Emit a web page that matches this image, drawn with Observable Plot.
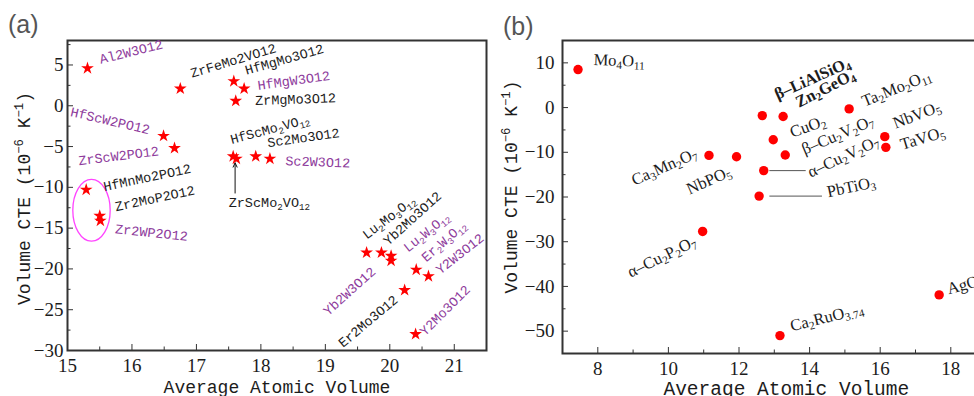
<!DOCTYPE html>
<html><head><meta charset="utf-8">
<script src="https://cdn.jsdelivr.net/npm/d3@7"></script>
<script src="https://cdn.jsdelivr.net/npm/@observablehq/plot@0.6"></script>
<style>
body{margin:0;background:#fff;}
#wrap{position:relative;width:974px;height:396px;overflow:hidden;background:#fff;}
.panel{position:absolute;top:0;}
.panel svg{max-width:none !important;}
.tag{position:absolute;font-family:"Liberation Sans",Arial,sans-serif;font-size:25px;color:#555;line-height:1;}
</style></head><body>
<div id="wrap">
  <div id="pa" class="panel" style="left:0px;width:490px"></div>
  <div id="pb" class="panel" style="left:490px;width:520px"></div>
  <div class="tag" style="left:8px;top:12px">(a)</div>
  <div class="tag" style="left:503px;top:14px">(b)</div>
</div>
<script>
// ---------- Panel (a) data ----------
const aNames = ["Al2W3O12","ZrFeMo2VO12","HfMgMo3O12","HfMgW3O12","ZrMgMo3O12","HfScW2PO12","ZrScW2PO12",
  "HfScMo₂VO₁₂","ZrScMo₂VO₁₂","Sc2Mo3O12","Sc2W3O12","HfMnMo2PO12","Zr2MoP2O12","Zr2WP2O12",
  "Lu₂Mo₃O₁₂","Yb2Mo3O12","Lu₂W₃O₁₂","Er₂W₃O₁₂","Yb2W3O12","Y2W3O12","Er2Mo3O12","Y2Mo3O12"];
const aVolume = [15.31,16.75,17.58,17.74,17.61,16.49,16.66,17.57,17.62,17.92,18.14,15.29,15.50,15.51,
  19.64,19.87,20.02,20.02,20.41,20.60,20.23,20.40];
const aCTE = [4.6,2.1,3.0,2.1,0.6,-3.7,-5.2,-6.2,-6.5,-6.2,-6.5,-10.3,-13.5,-14.1,
  -18.0,-18.0,-18.4,-19.0,-20.1,-20.9,-22.6,-28.0];
const aTone = ["P","K","K","P","K","P","P","K","K","K","P","K","K","P","K","K","P","P","P","P","K","P"];
// label anchors (data units) and angles
const aLabelX = [15.50,16.91,17.76,17.95,17.91,15.05,15.17,17.53,17.50,18.10,18.38,15.56,15.74,15.74,
  19.60,19.93,20.24,20.52,19.00,20.74,19.23,20.50];
const aLabelY = [5.65,3.93,4.3,2.46,0.61,-0.74,-6.76,-4.18,-11.9,-4.55,-6.76,-9.95,-12.4,-15.1,
  -16.0,-16.8,-17.6,-18.8,-25.4,-20.3,-29.3,-27.9];
const aLabelAngle = [-14,-17,-16,-8,-2,13,-7,-15,0,-8,2,-12,-12,6,-37,-42,-39,-41,-42,-38,-40,-45];
const aEllipseCenter = [15.38, -12.87];
const aEllipseRadii = [0.29, 3.79];
const aArrow = {x: 17.6, from: -10.7, to: -7.0};
const aXMajor = [15,16,17,18,19,20,21];
const aXMinor = [15.5,16.5,17.5,18.5,19.5,20.5];
const aYMajor = [-30,-25,-20,-15,-10,-5,0,5];
const aYMinor = [-27.5,-22.5,-17.5,-12.5,-7.5,-2.5,2.5,7.5];

// ---------- Panel (b) data ----------
const bNames = ["Mo₄O₁₁","β–LiAlSiO₄","Zn₂GeO₄","Ta₂Mo₂O₁₁","CuO₂","β–Cu₂V₂O₇","NbVO₅","TaVO₅",
  "Ca₃Mn₂O₇","NbPO₅","α–Cu₂V₂O₇","PbTiO₃","α–Cu₂P₂O₇","Ca₂RuO₃.₇₄","AgO₂"];
const bVolume = [7.44,12.66,13.25,15.12,12.97,13.31,16.13,16.16,11.15,11.93,12.70,12.57,10.97,13.16,17.67];
const bCTE = [8.5,-1.8,-2.0,-0.3,-7.2,-10.6,-6.5,-8.9,-10.7,-11.0,-14.1,-19.8,-27.7,-51.0,-41.9];
const bBold = [false,true,true,false,false,false,false,false,false,false,false,false,false,false,false];
const bLabelX = [7.88,13.03,13.63,15.50,13.46,13.80,16.38,16.58,8.98,10.54,13.97,14.50,8.87,13.46,17.90];
const bLabelY = [10.7,2.84,1.03,1.28,-5.66,-9.47,-3.65,-8.35,-16.4,-18.4,-14.6,-18.9,-37.0,-48.9,-40.6];
const bLabelAngle = [2,-24,-27,-22,-20,-23,-21,-17,-24,-24,-25,-12,-26,-14,-15];
const bLeaderFrom = [12.86, 12.86];
const bLeaderTo = [13.89, 14.35];
const bLeaderY = [-14.1, -19.8];
const bXMajor = [8,10,12,14,16,18];
const bXMinor = [7,9,11,13,15,17,19];
const bYMajor = [-50,-40,-30,-20,-10,0,10];
const bYMinor = [-45,-35,-25,-15,-5,5,15];

const yTitle = "Volume CTE (10⁻⁶ K⁻¹)";
const xTitle = "Average Atomic Volume";

const PURPLE = "#8e3b9c", INK = "#1c1c1c";
const mono = "'Liberation Mono', 'DejaVu Sans Mono', monospace";
const serif = "'Liberation Serif', 'DejaVu Serif', serif";
const fmt = d => (d < 0 ? "\u2212" : "") + Math.abs(d);

const aData = aNames.map((n, i) => ({name: n, x: aVolume[i], y: aCTE[i], tone: aTone[i],
  lx: aLabelX[i], ly: aLabelY[i], ang: aLabelAngle[i]}));
const bData = bNames.map((n, i) => ({name: n, x: bVolume[i], y: bCTE[i], bold: bBold[i],
  lx: bLabelX[i], ly: bLabelY[i], ang: bLabelAngle[i]}));
const bLeaders = bLeaderY.map((y, i) => ({x1: bLeaderFrom[i], x2: bLeaderTo[i], y}));

function axes(xMajor, xMinor, yMajor, yMinor, yPad) {
  const common = {stroke: "#333", fill: INK, label: null, fontSize: 19, fontFamily: serif};
  return [
    Plot.axisX({...common, ticks: xMajor, tickSize: 0, tickPadding: 8, tickFormat: fmt}),
    Plot.axisX({...common, ticks: xMajor, tickSize: -6, tickFormat: () => ""}),
    Plot.axisX({...common, ticks: xMinor, tickSize: -3.5, tickFormat: () => ""}),
    Plot.axisY({...common, ticks: yMajor, tickSize: 0, tickPadding: yPad, tickFormat: fmt}),
    Plot.axisY({...common, ticks: yMajor, tickSize: -6, tickFormat: () => ""}),
    Plot.axisY({...common, ticks: yMinor, tickSize: -3.5, tickFormat: () => ""})
  ];
}

const ellipseMark = (index, scales) => {
  const cx = scales.x(aEllipseCenter[0]), cy = scales.y(aEllipseCenter[1]);
  const rx = Math.abs(scales.x(aEllipseCenter[0] + aEllipseRadii[0]) - cx);
  const ry = Math.abs(scales.y(aEllipseCenter[1] + aEllipseRadii[1]) - cy);
  return d3.create("svg:ellipse").attr("cx", cx).attr("cy", cy).attr("rx", rx).attr("ry", ry)
    .attr("fill", "none").attr("stroke", "#ff44ff").attr("stroke-width", 1.3).node();
};

// turn unicode sub/superscripts into real shifted, smaller text runs
const SUBS = "₀₁₂₃₄₅₆₇₈₉", SUPS = "⁰¹²³⁴⁵⁶⁷⁸⁹";
function richText(svg) {
  d3.select(svg).selectAll("text").each(function() {
    const t = this.textContent;
    if (!/[₀-₉⁰¹²³⁴-⁹⁻]/.test(t)) return;
    const el = d3.select(this);
    el.text(null);
    const runs = t.match(/[₀-₉]+(?:\.[₀-₉]+)?|[⁰¹²³⁴-⁹⁻]+|[^₀-₉⁰¹²³⁴-⁹⁻]+/g);
    for (const r of runs) {
      if (/[₀-₉]/.test(r[0])) {
        el.append("tspan").attr("font-size", "68%").attr("baseline-shift", "-28%")
          .text([...r].map(c => c === "." ? "." : SUBS.indexOf(c)).join(""));
      } else if (/[⁰¹²³⁴-⁹⁻]/.test(r[0])) {
        el.append("tspan").attr("font-size", "68%").attr("baseline-shift", "55%")
          .text([...r].map(c => c === "⁻" ? "−" : SUPS.indexOf(c)).join(""));
      } else {
        el.append("tspan").text(r);
      }
    }
  });
}

const plotA = Plot.plot({
  width: 490, height: 396,
  marginLeft: 67, marginRight: 4, marginTop: 40, marginBottom: 46,
  x: {domain: [15, 21.5]},
  y: {domain: [-30, 8]},
  style: {background: "white", overflow: "visible", fontFamily: serif, maxWidth: "none"},
  marks: [
    ...axes(aXMajor, aXMinor, aYMajor, aYMinor, 4),
    Plot.frame({stroke: "#333", strokeWidth: 2}),
    ellipseMark,
    Plot.arrow([aArrow], {x1: "x", x2: "x", y1: "from", y2: "to", stroke: "#111", strokeWidth: 1, headLength: 7, headAngle: 50}),
    Plot.dot(aData, {x: "x", y: "y", symbol: "star", r: 4, fill: "#ff0000", stroke: "none"}),
    Plot.text(aData, {x: "lx", y: "ly", text: "name", rotate: "ang", textAnchor: "start", lineAnchor: "middle",
      fill: d => d.tone === "P" ? PURPLE : INK, fontFamily: mono, fontSize: 13.5}),
    Plot.text([xTitle], {frameAnchor: "bottom", lineAnchor: "bottom", dy: 42, fontFamily: mono, fontSize: 18, fill: INK}),
    Plot.text([yTitle], {frameAnchor: "left", textAnchor: "middle", rotate: -90, dx: -43, dy: 3, fontFamily: mono, fontSize: 18, fill: INK})
  ]
});
richText(plotA);
document.getElementById("pa").append(plotA);

const plotB = Plot.plot({
  width: 520, height: 396,
  marginLeft: 72, marginRight: 24.4, marginTop: 40, marginBottom: 43,
  x: {domain: [7, 19]},
  y: {domain: [-55, 15]},
  style: {background: "white", overflow: "visible", fontFamily: serif, maxWidth: "none"},
  marks: [
    ...axes(bXMajor, bXMinor, bYMajor, bYMinor, 8),
    Plot.frame({stroke: "#333", strokeWidth: 2}),
    Plot.link(bLeaders, {x1: "x1", x2: "x2", y1: "y", y2: "y", stroke: "#555", strokeWidth: 1}),
    Plot.dot(bData, {x: "x", y: "y", r: 4.7, fill: "#ff0000", stroke: "none"}),
    Plot.text(bData.filter(d => !d.bold), {x: "lx", y: "ly", text: "name", rotate: "ang", textAnchor: "start", lineAnchor: "middle",
      fill: INK, fontFamily: serif, fontSize: 16.5}),
    Plot.text(bData.filter(d => d.bold), {x: "lx", y: "ly", text: "name", rotate: "ang", textAnchor: "start", lineAnchor: "middle",
      fill: INK, fontFamily: serif, fontSize: 16.5, fontWeight: "bold"}),
    Plot.text([xTitle], {frameAnchor: "bottom", lineAnchor: "bottom", dy: 41, dx: 12, fontFamily: mono, fontSize: 19.5, fill: INK}),
    Plot.text([yTitle], {frameAnchor: "left", textAnchor: "middle", rotate: -90, dx: -51, dy: -10, fontFamily: mono, fontSize: 18, fill: INK})
  ]
});
richText(plotB);
document.getElementById("pb").append(plotB);
</script>
</body></html>
